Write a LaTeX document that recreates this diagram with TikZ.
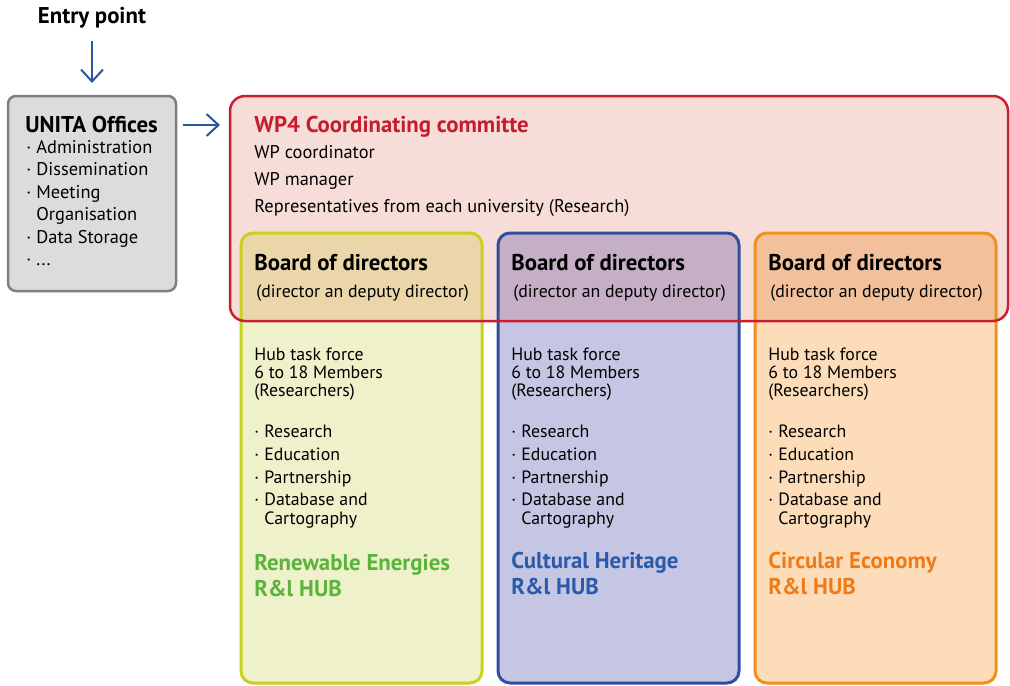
\documentclass[tikz,border=0pt]{standalone}
\usepackage{fontspec}
\setmainfont{PT Sans}
\usetikzlibrary{arrows.meta}
\definecolor{arrblue}{HTML}{2A56A0}
\definecolor{grayfill}{HTML}{DCDCDC}
\definecolor{grayborder}{HTML}{808080}
\definecolor{pinkfill}{HTML}{F6DDD8}
\definecolor{redborder}{HTML}{C8202F}
\definecolor{redtext}{HTML}{C41E2E}
\definecolor{gfill}{HTML}{EFF1CB}
\definecolor{gover}{HTML}{EAD6A8}
\definecolor{gborder}{HTML}{C8D020}
\definecolor{gtext}{HTML}{5AB43C}
\definecolor{bfill}{HTML}{C4C6E4}
\definecolor{bover}{HTML}{C4AFC6}
\definecolor{bborder}{HTML}{2E4E9E}
\definecolor{btext}{HTML}{2A5AA8}
\definecolor{ofill}{HTML}{FDDDB9}
\definecolor{oover}{HTML}{F2C19C}
\definecolor{oborder}{HTML}{F0901E}
\definecolor{otext}{HTML}{F07A1A}
\newcommand\bul[1]{\makebox[5pt][l]{·}#1}
\newcommand\ind{\hspace*{5pt}}
\begin{document}
\begin{tikzpicture}[x=0.5pt,y=-0.5pt,
  box/.style={rectangle, inner sep=0pt, outer sep=0pt},
  hubbox/.style={box, minimum width=120.5pt, minimum height=225pt, rounded corners=6pt},
  hubline/.style={line width=1.5pt, rounded corners=6pt},
  bigbold/.style={inner sep=0pt, font=\fontsize{11.4}{13}\selectfont\bfseries, align=left},
  body/.style={inner sep=0pt, align=left},
  hubbody/.style={body, font=\fontsize{8.9}{9.2}\selectfont},
  arr/.style={-{Straight Barb[length=6pt,width=11pt]}, arrblue, line width=1pt}]
\useasboundingbox (0,0) rectangle (1010,685);

% entry and UNITA offices
\node[bigbold, anchor=base] (entry) at (92,24) {Entry point};
\node[box, minimum width=84pt, minimum height=97.5pt, fill=grayfill, draw=grayborder,
      line width=1.25pt, rounded corners=4pt] (unita) at (92,193.5) {};
\node[bigbold, anchor=base west] (unitatitle) at (25,132) {UNITA Offices};
\node[body, font=\fontsize{9.2}{11.25}\selectfont, anchor=base west] (unitalist) at (26,265.5)
  {\bul{Administration}\\\bul{Dissemination}\\\bul{Meeting}\\\ind Organisation\\\bul{Data Storage}\\\bul{...}};

% WP4 committee background
\node[box, minimum width=389pt, minimum height=112.5pt, fill=pinkfill, rounded corners=7.5pt] (wp4) at (619,208.5) {};

% hubs
\node[hubbox, fill=gfill] (hubg) at (361.5,458) {};
\node[hubbox, fill=bfill] (hubb) at (618.5,458) {};
\node[hubbox, fill=ofill] (hubo) at (875.5,458) {};

\begin{scope}
  \clip[rounded corners=7.5pt] (wp4.south west) rectangle (wp4.north east);
  \fill[gover, rounded corners=6pt] (hubg.south west) rectangle (hubg.north east);
  \fill[bover, rounded corners=6pt] (hubb.south west) rectangle (hubb.north east);
  \fill[oover, rounded corners=6pt] (hubo.south west) rectangle (hubo.north east);
\end{scope}
\draw[hubline, gborder] (hubg.south west) rectangle (hubg.north east);
\draw[hubline, bborder] (hubb.south west) rectangle (hubb.north east);
\draw[hubline, oborder] (hubo.south west) rectangle (hubo.north east);
\draw[redborder, line width=1.25pt, rounded corners=7.5pt] (wp4.south west) rectangle (wp4.north east);

% WP4 texts
\node[bigbold, text=redtext, anchor=base west] (wptitle) at (254,132) {WP4 Coordinating committe};
\node[body, font=\fontsize{9.2}{13.5}\selectfont, anchor=base west] (wplist) at (254,212)
  {WP coordinator\\WP manager\\Representatives from each university (Research)};

% boards
\foreach \n/\x in {g/254, b/511, o/768}{
  \node[bigbold, anchor=base west] (board\n) at (\x,270) {Board of directors};
  \node[body, font=\fontsize{8.9}{10}\selectfont, anchor=base west] (boardsub\n) at (\x+2,297) {(director an deputy director)};
  \node[hubbody, anchor=base west] (hublist\n) at (\x,524)
    {Hub task force\\6 to 18 Members\\(Researchers)\\[11.3pt]\bul{Research}\\[2.1pt]\bul{Education}\\[2.1pt]\bul{Partnership}\\[2.1pt]\bul{Database and}\\\ind Cartography};
}
\node[bigbold, text=gtext, anchor=base west] (hubgname) at (254,596) {Renewable Energies\\R\&l HUB};
\node[bigbold, text=btext, anchor=base west] (hubbname) at (511,594) {Cultural Heritage\\R\&l HUB};
\node[bigbold, text=otext, anchor=base west] (huboname) at (768,594) {Circular Economy\\R\&l HUB};

% connectors
\coordinate (ay) at (0,125);
\draw[arr, shorten <=6pt, shorten >=6.5pt] (entry.south) -- (unita.north);
\draw[arr, shorten <=3.5pt, shorten >=5pt] (unita.east |- ay) -- (wp4.west |- ay);
\end{tikzpicture}
\end{document}
